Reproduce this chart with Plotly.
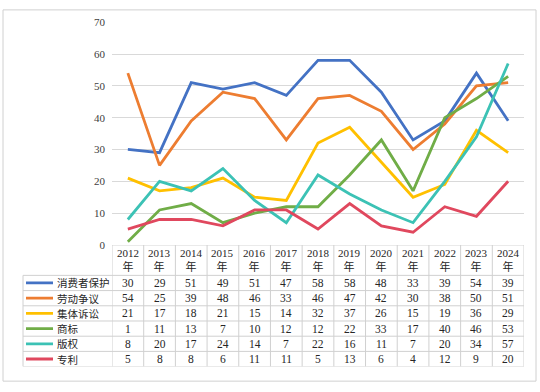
import plotly.graph_objects as go

years = [2012, 2013, 2014, 2015, 2016, 2017, 2018, 2019, 2020, 2021, 2022, 2023, 2024]
series_names = ["消费者保护", "劳动争议", "集体诉讼", "商标", "版权", "专利"]
consumer = [30, 29, 51, 49, 51, 47, 58, 58, 48, 33, 39, 54, 39]
labor = [54, 25, 39, 48, 46, 33, 46, 47, 42, 30, 38, 50, 51]
class_action = [21, 17, 18, 21, 15, 14, 32, 37, 26, 15, 19, 36, 29]
trademark = [1, 11, 13, 7, 10, 12, 12, 22, 33, 17, 40, 46, 53]
copyright_ = [8, 20, 17, 24, 14, 7, 22, 16, 11, 7, 20, 34, 57]
patent = [5, 8, 8, 6, 11, 11, 5, 13, 6, 4, 12, 9, 20]
series_values = [consumer, labor, class_action, trademark, copyright_, patent]
colors = ["#4472C4", "#ED7D31", "#FFC000", "#70AD47", "#3CC2B5", "#E0485E"]
y_ticks = [0, 10, 20, 30, 40, 50, 60, 70]

W, H = 540, 392
def px(x):
    return x / W
def py(y):
    return (H - y) / H

grid = "#D9D9D9"
border = "#D0D0D0"
num_font = "Liberation Serif, Noto Sans CJK SC"
cjk_font = "Noto Sans CJK SC"

fig = go.Figure()
for name, vals, col in zip(series_names, series_values, colors):
    fig.add_trace(go.Scatter(x=years, y=vals, name=name, mode="lines",
                             line=dict(color=col, width=2.8), showlegend=False,
                             hoverinfo="skip", xaxis="x", yaxis="y"))

x_lo, x_hi = years[0] - 0.5, years[-1] + 0.5
n_rows = len(series_names)
header_h = 2
table_bottom = header_h + n_rows

shapes = []
# outer chart border
shapes.append(dict(type="rect", xref="paper", yref="paper", x0=px(3), x1=px(536),
                   y0=py(387), y1=py(4), line=dict(color=border, width=1)))
# column dividers
for k in range(len(years) + 1):
    shapes.append(dict(type="line", xref="x", yref="y2", x0=x_lo + k, x1=x_lo + k,
                       y0=0, y1=table_bottom, line=dict(color=border, width=1)))
# top border (axis line)
shapes.append(dict(type="line", xref="x", yref="y2", x0=x_lo, x1=x_hi, y0=0, y1=0,
                   line=dict(color=border, width=1)))
# row lines incl. legend column
for r in range(n_rows + 1):
    yy = header_h + r
    shapes.append(dict(type="line", xref="paper", yref="y2", x0=px(23), x1=px(524),
                       y0=yy, y1=yy, line=dict(color=border, width=1)))
shapes.append(dict(type="line", xref="paper", yref="y2", x0=px(23), x1=px(23),
                   y0=header_h, y1=table_bottom, line=dict(color=border, width=1)))
# legend keys
for i, col in enumerate(colors):
    yy = header_h + i + 0.5
    shapes.append(dict(type="line", xref="paper", yref="y2", x0=px(26), x1=px(53),
                       y0=yy, y1=yy, line=dict(color=col, width=2.8)))

annotations = []
for yr in years:
    annotations.append(dict(xref="x", yref="y2", x=yr, y=header_h / 2,
                            text=f"{yr}<br>年", showarrow=False,
                            font=dict(family=num_font, size=11, color="#262626")))
for i, (name, vals) in enumerate(zip(series_names, series_values)):
    yy = header_h + i + 0.5
    annotations.append(dict(xref="paper", yref="y2", x=px(55), y=yy, xanchor="left",
                            yanchor="middle", text=name, showarrow=False,
                            font=dict(family=cjk_font, size=10.5, color="#262626")))
    for yr, v in zip(years, vals):
        annotations.append(dict(xref="x", yref="y2", x=yr, y=yy, text=str(v),
                                showarrow=False, yanchor="middle",
                                font=dict(family=num_font, size=11.5, color="#262626")))

fig.update_layout(
    width=W, height=H,
    margin=dict(l=0, r=0, t=0, b=0),
    paper_bgcolor="white", plot_bgcolor="white",
    hovermode=False,
    xaxis=dict(domain=[px(112), px(524)], range=[x_lo, x_hi], showticklabels=False,
               showgrid=False, zeroline=False, showline=False, ticks="", fixedrange=True),
    yaxis=dict(domain=[py(246.5), py(16.7)], range=[0, 70], tickvals=y_ticks,
               showgrid=True, gridcolor=grid, gridwidth=1, zeroline=False,
               showline=False, ticks="", ticklabelstandoff=6, fixedrange=True,
               tickfont=dict(family=num_font, size=11, color="#404040")),
    yaxis2=dict(domain=[py(372), py(246.5)], range=[table_bottom, 0], visible=False,
                anchor="x"),
    shapes=shapes,
    annotations=annotations,
)

fig.write_html("out.html", config={"displayModeBar": False},
               post_script="document.body.style.margin='0px';")
